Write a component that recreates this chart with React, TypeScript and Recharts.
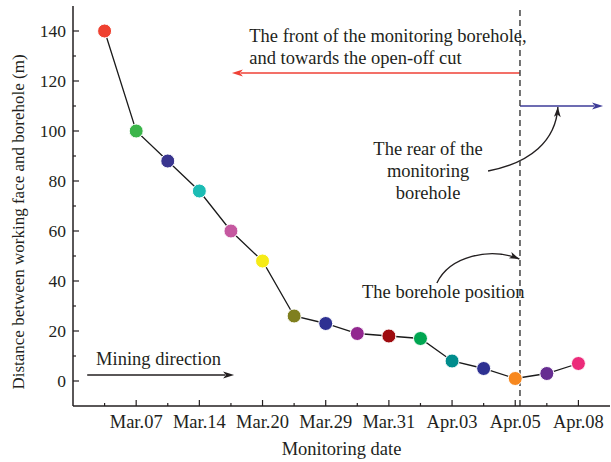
import React from 'react';
import { LineChart, Line, XAxis, YAxis, ReferenceLine, Customized } from 'recharts';

const positions = [1, 2, 3, 4, 5, 6, 7, 8, 9, 10, 11, 12, 13, 14, 15, 16];
const dateLabels = ['', 'Mar.07', '', 'Mar.14', '', 'Mar.20', '', 'Mar.29', '', 'Mar.31', '', 'Apr.03', '', 'Apr.05', '', 'Apr.08'];
const distance = [140, 100, 88, 76, 60, 48, 26, 23, 19, 18, 17, 8, 5, 1, 3, 7];
const pointColors = [
  '#ef4130', '#3bb54a', '#39358f', '#1cbcb4', '#c558a0', '#f6eb16', '#7f7f1e', '#2e3192',
  '#92278f', '#9e0b0f', '#00a651', '#008c8c', '#2e3192', '#f7881f', '#662d91', '#ec2b7a',
];
const yTicks = [0, 10, 20, 30, 40, 50, 60, 70, 80, 90, 100, 110, 120, 130, 140];

const data = positions.map((pos, i) => ({
  pos,
  label: dateLabels[i],
  distance: distance[i],
  color: pointColors[i],
}));

const W = 611;
const H = 462;
const X_DOMAIN: [number, number] = [0, 17];
const Y_DOMAIN: [number, number] = [-10, 150];
const MARGIN = { top: 6, right: 1, bottom: 0, left: 0 };
const Y_AXIS_W = 73;
const X_AXIS_H = 56;
const PLOT = {
  x: MARGIN.left + Y_AXIS_W,
  y: MARGIN.top,
  w: W - MARGIN.left - Y_AXIS_W - MARGIN.right,
  h: H - MARGIN.top - MARGIN.bottom - X_AXIS_H,
};

const FONT = '"Liberation Serif", "DejaVu Serif", serif';
const INK = '#231f20';
const BOREHOLE_X = 14.15;

// annotation layout, in data units
const straightArrows = [
  { x1: BOREHOLE_X, y1: 123.2, x2: 5.03, y2: 123.2, color: '#ef4136' },
  { x1: BOREHOLE_X, y1: 110, x2: 16.78, y2: 110, color: '#3d3b98' },
  { x1: 0.45, y1: 2.4, x2: 5.1, y2: 2.4, color: INK },
];
const curvedArrows = [
  { pts: [[13.14, 84], [14.47, 87.2], [15.29, 96], [15.35, 109.6]] },
  { pts: [[11.52, 39.2], [11.93, 50], [13.2, 53.6], [14.13, 48.8]] },
];
const notes = [
  { x: 5.58, y: 135.6, text: 'The front of the monitoring borehole,', anchor: 'start' },
  { x: 5.58, y: 126.8, text: 'and towards the open-off cut', anchor: 'start' },
  { x: 11.24, y: 90.4, text: 'The rear of the', anchor: 'middle' },
  { x: 11.24, y: 81.6, text: 'monitoring', anchor: 'middle' },
  { x: 11.24, y: 72.8, text: 'borehole', anchor: 'middle' },
  { x: 9.15, y: 33.2, text: 'The borehole position', anchor: 'start' },
  { x: 0.73, y: 6.4, text: 'Mining direction', anchor: 'start' },
];

const sx = (v: number) => PLOT.x + ((v - X_DOMAIN[0]) / (X_DOMAIN[1] - X_DOMAIN[0])) * PLOT.w;
const sy = (v: number) => PLOT.y + PLOT.h - ((v - Y_DOMAIN[0]) / (Y_DOMAIN[1] - Y_DOMAIN[0])) * PLOT.h;

function arrowHead(tx: number, ty: number, fx: number, fy: number, color: string, len = 11, half = 3.6) {
  const a = Math.atan2(ty - fy, tx - fx);
  const bx = tx - len * Math.cos(a);
  const by = ty - len * Math.sin(a);
  const px = -Math.sin(a) * half;
  const py = Math.cos(a) * half;
  return (
    <polygon
      points={`${tx},${ty} ${bx + px},${by + py} ${bx + len * 0.25 * Math.cos(a)},${by + len * 0.25 * Math.sin(a)} ${bx - px},${by - py}`}
      fill={color}
    />
  );
}

function Annotations() {
  return (
    <g>
      {straightArrows.map((a, i) => {
        const x1 = sx(a.x1), y1 = sy(a.y1), x2 = sx(a.x2), y2 = sy(a.y2);
        const ang = Math.atan2(y2 - y1, x2 - x1);
        return (
          <g key={`s${i}`}>
            <line x1={x1} y1={y1} x2={x2 - 9 * Math.cos(ang)} y2={y2 - 9 * Math.sin(ang)} stroke={a.color} strokeWidth={1.6} />
            {arrowHead(x2, y2, x1, y1, a.color)}
          </g>
        );
      })}
      {curvedArrows.map((c, i) => {
        const p = c.pts.map(([x, y]) => [sx(x), sy(y)]);
        return (
          <g key={`c${i}`}>
            <path
              d={`M${p[0][0]},${p[0][1]} C${p[1][0]},${p[1][1]} ${p[2][0]},${p[2][1]} ${p[3][0]},${p[3][1]}`}
              fill="none"
              stroke={INK}
              strokeWidth={1.4}
            />
            {arrowHead(p[3][0], p[3][1], p[2][0], p[2][1], INK, 10, 3.4)}
          </g>
        );
      })}
      {notes.map((n, i) => (
        <text
          key={`n${i}`}
          x={sx(n.x)}
          y={sy(n.y)}
          textAnchor={n.anchor as any}
          fontFamily={FONT}
          fontSize={18.5}
          fill={INK}
        >
          {n.text}
        </text>
      ))}
      <text
        transform={`translate(24, 222) rotate(-90)`}
        textAnchor="middle"
        fontFamily={FONT}
        fontSize={17}
        fill={INK}
      >
        Distance between working face and borehole (m)
      </text>
      <text x={PLOT.x + PLOT.w / 2} y={455} textAnchor="middle" fontFamily={FONT} fontSize={18.5} fill={INK}>
        Monitoring date
      </text>
    </g>
  );
}

function BottomTick(props: any) {
  const { x, y, payload } = props;
  const major = payload.value % 2 === 0;
  const label = dateLabels[payload.value - 1];
  return (
    <g>
      <line x1={x} x2={x} y1={y} y2={y - (major ? 6 : 3)} stroke={INK} strokeWidth={1.2} />
      {label ? (
        <text x={x} y={y + 22} textAnchor="middle" fontFamily={FONT} fontSize={18.5} fill={INK}>
          {label}
        </text>
      ) : null}
    </g>
  );
}

function TopTick(props: any) {
  const { x, y, payload } = props;
  const major = payload.value % 2 === 0;
  return <line x1={x} x2={x} y1={y} y2={y + (major ? 6 : 3)} stroke={INK} strokeWidth={1.2} />;
}

function LeftTick(props: any) {
  const { x, y, payload } = props;
  const major = payload.value % 20 === 0;
  return (
    <g>
      <line x1={x} x2={x + (major ? 6 : 3)} y1={y} y2={y} stroke={INK} strokeWidth={1.2} />
      {major ? (
        <text x={x - 7} y={y + 6} textAnchor="end" fontFamily={FONT} fontSize={17.5} fill={INK}>
          {payload.value}
        </text>
      ) : null}
    </g>
  );
}

function RightTick(props: any) {
  const { x, y, payload } = props;
  const major = payload.value % 20 === 0;
  return <line x1={x} x2={x - (major ? 6 : 3)} y1={y} y2={y} stroke={INK} strokeWidth={1.2} />;
}

function ColorDot(props: any) {
  const { cx, cy, payload, index } = props;
  if (cx == null || cy == null) return null;
  return <circle key={`d${index}`} cx={cx} cy={cy} r={7} fill={payload.color} stroke="#fff" strokeWidth={1} />;
}

export default function App() {
  const axisLine = { stroke: INK, strokeWidth: 1.5 };
  return (
    <div style={{ position: 'absolute', left: 0, top: 0, width: W, height: H, background: '#fff' }}>
      <LineChart width={W} height={H} data={data} margin={MARGIN}>
        <XAxis
          dataKey="pos"
          type="number"
          domain={X_DOMAIN}
          ticks={positions}
          interval={0}
          height={X_AXIS_H}
          tickSize={0}
          tickMargin={0}
          tickLine={false}
          axisLine={axisLine}
          tick={<BottomTick />}
        />
        <XAxis
          xAxisId="top"
          orientation="top"
          dataKey="pos"
          type="number"
          domain={X_DOMAIN}
          ticks={positions}
          interval={0}
          height={0}
          tickSize={0}
          tickMargin={0}
          tickLine={false}
          axisLine={axisLine}
          tick={<TopTick />}
        />
        <YAxis
          type="number"
          domain={Y_DOMAIN}
          ticks={yTicks}
          interval={0}
          width={Y_AXIS_W}
          tickSize={0}
          tickMargin={0}
          tickLine={false}
          axisLine={axisLine}
          tick={<LeftTick />}
        />
        <YAxis
          yAxisId="right"
          orientation="right"
          type="number"
          domain={Y_DOMAIN}
          ticks={yTicks}
          interval={0}
          width={0}
          tickSize={0}
          tickMargin={0}
          tickLine={false}
          axisLine={axisLine}
          tick={<RightTick />}
        />
        <ReferenceLine x={BOREHOLE_X} stroke="#444" strokeWidth={1.5} strokeDasharray="6 4" />
        <Line
          dataKey="distance"
          stroke="#1a1a1a"
          strokeWidth={1.3}
          dot={<ColorDot />}
          activeDot={false}
          isAnimationActive={false}
        />
        <Line
          xAxisId="top"
          yAxisId="right"
          dataKey="distance"
          stroke="none"
          dot={false}
          activeDot={false}
          isAnimationActive={false}
          legendType="none"
        />
        <Customized component={<Annotations />} />
      </LineChart>
    </div>
  );
}
